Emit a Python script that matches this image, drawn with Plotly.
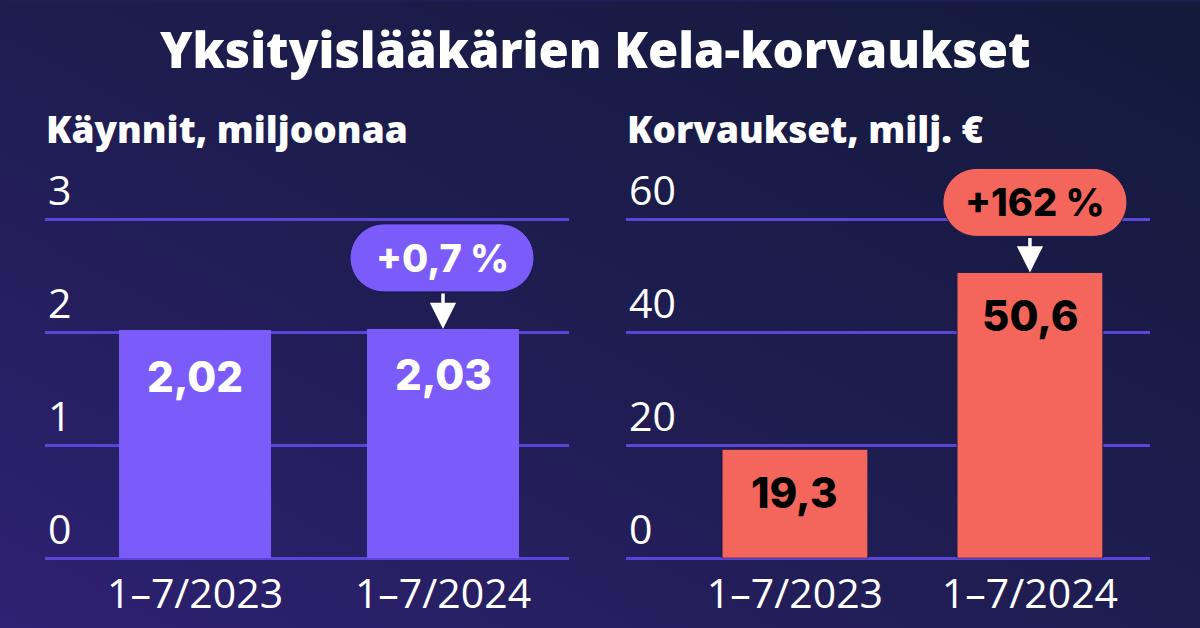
import base64
import plotly.graph_objects as go

# ---- data ----
periods = ["1–7/2023", "1–7/2024"]
visits_millions = [2.02, 2.03]
compensation_meur = [19.3, 50.6]
visits_labels = ["2,02", "2,03"]
comp_labels = ["19,3", "50,6"]
visits_change = "+0,7 %"
comp_change = "+162 %"
visits_ticks = [0, 1, 2, 3]
comp_ticks = [0, 20, 40, 60]
title_text = "Yksityislääkärien Kela-korvaukset"
subtitle_left = "Käynnit, miljoonaa"
subtitle_right = "Korvaukset, milj. €"

# ---- style ----
W, H = 1200, 628
PURPLE = "#7B5CFA"
CORAL = "#F4665B"
GRID = "#5B44D8"
WHITE = "#FFFFFF"
BLACK = "#000000"
SANS = "Open Sans"
NUM = "Inter"


def fx(p):
    return p / W


def fy(p):
    return 1 - p / H


ydom = [fy(558), fy(161.33)]

svg = (
    '<svg xmlns="http://www.w3.org/2000/svg" width="1200" height="628">'
    '<defs><linearGradient id="g" x1="1" y1="0" x2="0" y2="1">'
    '<stop offset="0" stop-color="#131a3a"/>'
    '<stop offset="0.55" stop-color="#1f1d52"/>'
    '<stop offset="1" stop-color="#2f2174"/>'
    '</linearGradient></defs>'
    '<rect width="1200" height="628" fill="url(#g)"/></svg>'
)
bg_src = "data:image/svg+xml;base64," + base64.b64encode(svg.encode()).decode()

fig = go.Figure()
fig.add_trace(go.Bar(x=periods, y=visits_millions, xaxis="x", yaxis="y",
                     marker=dict(color=PURPLE, line=dict(width=0)),
                     width=0.613, hoverinfo="skip"))
fig.add_trace(go.Bar(x=periods, y=compensation_meur, xaxis="x2", yaxis="y2",
                     marker=dict(color=CORAL, line=dict(color="#1a1850", width=1)),
                     width=0.621, hoverinfo="skip"))

xcommon = dict(type="category", showgrid=False, zeroline=False, showline=False,
               ticks="", ticklabelstandoff=8,
               tickfont=dict(family=SANS, size=41, color=WHITE, weight=500),
               fixedrange=True)
ycommon = dict(showgrid=True, gridcolor=GRID, gridwidth=2.5,
               zeroline=True, zerolinecolor=GRID, zerolinewidth=2.5,
               showline=False, ticks="", ticklabelposition="inside top",
               ticklabeloverflow="allow",
               tickfont=dict(family=SANS, size=41, color=WHITE, weight=500), fixedrange=True)

fig.update_layout(
    width=W, height=H,
    margin=dict(l=0, r=0, t=0, b=0),
    paper_bgcolor="#1f1d52",
    plot_bgcolor="rgba(0,0,0,0)",
    showlegend=False,
    xaxis=dict(xcommon, domain=[fx(45), fx(569)], range=[-0.605, 1.508], anchor="y"),
    yaxis=dict(ycommon, domain=ydom, range=[0, 3.5], tickvals=visits_ticks, anchor="x"),
    xaxis2=dict(xcommon, domain=[fx(626), fx(1150)], range=[-0.719, 1.511], anchor="y2"),
    yaxis2=dict(ycommon, domain=ydom, range=[0, 70], tickvals=comp_ticks, anchor="x2"),
    images=[dict(source=bg_src, xref="paper", yref="paper", x=0, y=1, sizex=1, sizey=1,
                 xanchor="left", yanchor="top", sizing="stretch", layer="below")],
)

annotations = []
# title + subtitles
annotations.append(dict(text=title_text, xref="paper", yref="paper",
                        x=fx(595), y=fy(47), xanchor="center", yanchor="middle",
                        showarrow=False,
                        font=dict(family=SANS, size=49, color=WHITE, weight=800)))
annotations.append(dict(text=subtitle_left, xref="paper", yref="paper",
                        x=fx(44), y=fy(127), xanchor="left", yanchor="middle",
                        showarrow=False,
                        font=dict(family=SANS, size=37, color=WHITE, weight=800)))
annotations.append(dict(text=subtitle_right, xref="paper", yref="paper",
                        x=fx(625), y=fy(127), xanchor="left", yanchor="middle",
                        showarrow=False,
                        font=dict(family=SANS, size=37, color=WHITE, weight=800)))

# value labels inside bars
for i in range(2):
    annotations.append(dict(text=visits_labels[i], x=periods[i], y=visits_millions[i],
                            xref="x", yref="y", yanchor="middle", yshift=-46, showarrow=False,
                            font=dict(family=NUM, size=42, color=WHITE, weight=800)))
    annotations.append(dict(text=comp_labels[i], x=periods[i], y=compensation_meur[i],
                            xref="x2", yref="y2", yanchor="middle", yshift=-43, showarrow=False,
                            font=dict(family=NUM, size=42, color=BLACK, weight=800)))


def pill_path(cx, bottom, w, h):
    r = h / 2
    k = 0.5523 * r
    lx = cx - w / 2 + r
    rx = cx + w / 2 - r
    top = bottom + h
    mid = bottom + r
    return (f"M{lx},{bottom} L{rx},{bottom} "
            f"C{rx + k},{bottom} {rx + r},{mid - k} {rx + r},{mid} "
            f"C{rx + r},{mid + k} {rx + k},{top} {rx},{top} "
            f"L{lx},{top} "
            f"C{lx - k},{top} {lx - r},{mid + k} {lx - r},{mid} "
            f"C{lx - r},{mid - k} {lx - k},{bottom} {lx},{bottom} Z")


callouts = [
    dict(xr="x", yr="y", val=visits_millions[1], text=visits_change, fill=PURPLE,
         color=WHITE, dx=-1, gap=37),
    dict(xr="x2", yr="y2", val=compensation_meur[1], text=comp_change, fill=CORAL,
         color=BLACK, dx=5, gap=36),
]
shapes = []
for c in callouts:
    shapes.append(dict(type="path", xref=c["xr"], yref=c["yr"], xsizemode="pixel",
                       ysizemode="pixel", xanchor=1, yanchor=c["val"],
                       path=pill_path(c["dx"], c["gap"], 184, 68),
                       fillcolor=c["fill"], line=dict(color="#1a1850", width=1), layer="above"))
    annotations.append(dict(text=c["text"], x=periods[1], y=c["val"],
                            xref=c["xr"], yref=c["yr"], xshift=c["dx"], yshift=c["gap"] + 34,
                            yanchor="middle", showarrow=False,
                            font=dict(family=NUM, size=38, color=c["color"], weight=800)))
    annotations.append(dict(text="", x=periods[1], y=c["val"], xref=c["xr"], yref=c["yr"],
                            showarrow=True, ax=0, ay=-c["gap"], arrowhead=2, arrowsize=1.5,
                            arrowwidth=3.5, arrowcolor=WHITE, standoff=0))

fig.update_layout(annotations=annotations, shapes=shapes)
fig.write_html("out.html", config={"displayModeBar": False},
               post_script="document.body.style.margin='0';document.body.style.overflow='hidden';")
